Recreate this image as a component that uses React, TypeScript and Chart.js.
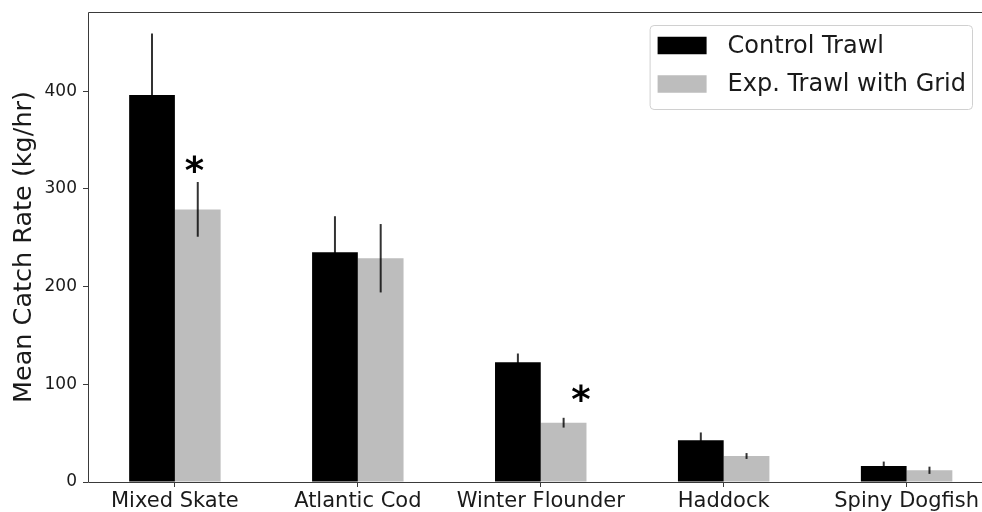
import React, { useEffect, useRef } from 'react';
import { Chart, registerables } from 'chart.js';

Chart.register(...registerables);

const categories = ['Mixed Skate', 'Atlantic Cod', 'Winter Flounder', 'Haddock', 'Spiny Dogfish'];
const seriesLabels = ['Control Trawl', 'Exp. Trawl with Grid'];
const controlValues = [396, 235, 122.5, 42.7, 16.4];
const controlErrors = [63, 37, 9, 8, 4.5];
const gridValues = [279, 229, 60.7, 26.6, 12];
const gridErrors = [28, 35, 5, 3, 3.7];
const yTickValues = [0, 100, 200, 300, 400];
const asteriskX = [0.106, 2.219];
const asteriskY = [325.6, 91];

const FONT = "'DejaVu Sans', sans-serif";
const TEXT = '#1a1a1a';
const SPINE = '#3a3a3a';
const seriesColors = ['#000000', '#bdbdbd'];

const extrasPlugin = {
  id: 'extras',
  afterDatasetsDraw(chart: any) {
    const ctx = chart.ctx;
    const y = chart.scales.y;
    const errs = [controlErrors, gridErrors];
    ctx.save();
    ctx.strokeStyle = 'rgba(0,0,0,0.8)';
    ctx.lineWidth = 2;
    chart.data.datasets.forEach((ds: any, di: number) => {
      const meta = chart.getDatasetMeta(di);
      meta.data.forEach((bar: any, i: number) => {
        const v = ds.data[i].y;
        const e = errs[di][i];
        ctx.beginPath();
        ctx.moveTo(bar.x, y.getPixelForValue(v + e));
        ctx.lineTo(bar.x, y.getPixelForValue(v - e));
        ctx.stroke();
      });
    });
    // spines (left, top, bottom; the right one lies beyond the visible area)
    const a = chart.chartArea;
    const l = Math.round(a.left) + 0.5;
    const t = Math.round(a.top) + 0.5;
    const b = Math.round(a.bottom) + 0.5;
    const r = a.right;
    ctx.strokeStyle = SPINE;
    ctx.lineWidth = 1;
    ctx.beginPath();
    ctx.moveTo(r, t);
    ctx.lineTo(l, t);
    ctx.lineTo(l, b);
    ctx.lineTo(r, b);
    ctx.stroke();
    ctx.restore();
  },
  afterDraw(chart: any) {
    const ctx = chart.ctx;
    const xs = chart.scales.x;
    const ys = chart.scales.y;
    const a = chart.chartArea;
    ctx.save();
    // asterisks
    ctx.font = `bold 37px ${FONT}`;
    ctx.fillStyle = '#000';
    ctx.textAlign = 'left';
    ctx.textBaseline = 'alphabetic';
    asteriskX.forEach((xv, i) => {
      const m = ctx.measureText('*');
      const cx = xs.getPixelForValue(xv);
      const cy = ys.getPixelForValue(asteriskY[i]);
      const gx = cx - (m.actualBoundingBoxRight - m.actualBoundingBoxLeft) / 2 + m.actualBoundingBoxLeft;
      const gy = cy + (m.actualBoundingBoxAscent - m.actualBoundingBoxDescent) / 2;
      ctx.fillText('*', gx, gy);
    });
    // legend
    ctx.font = `24px ${FONT}`;
    const labels = chart.data.datasets.map((d: any) => d.label);
    const tw = Math.max(...labels.map((l: string) => ctx.measureText(l).width));
    const padL = 8, sw = 49, sh = 17.5, gap = 21, padR = 6;
    const w = padL + sw + gap + tw + padR;
    const h = 84;
    const right = a.right - 21.5;
    const top = a.top + 13;
    const left = right - w;
    ctx.beginPath();
    if (ctx.roundRect) ctx.roundRect(left + 0.5, top + 0.5, w, h, 4);
    else ctx.rect(left + 0.5, top + 0.5, w, h);
    ctx.fillStyle = 'rgba(255,255,255,0.85)';
    ctx.fill();
    ctx.strokeStyle = '#d0d0d0';
    ctx.lineWidth = 1;
    ctx.stroke();
    const rows = [top + 20.5, top + 59];
    ctx.textBaseline = 'middle';
    ctx.textAlign = 'left';
    chart.data.datasets.forEach((d: any, i: number) => {
      ctx.fillStyle = d.backgroundColor;
      ctx.fillRect(left + padL, rows[i] - sh / 2, sw, sh);
      ctx.fillStyle = TEXT;
      ctx.fillText(d.label, left + padL + sw + gap, rows[i] + 1);
    });
    ctx.restore();
  },
};

export default function App() {
  const ref = useRef<HTMLCanvasElement | null>(null);
  useEffect(() => {
    if (!ref.current) return;
    const chart = new Chart(ref.current, {
      type: 'bar',
      data: {
        datasets: [
          {
            label: seriesLabels[0],
            data: controlValues.map((v, i) => ({ x: i, y: v })),
            backgroundColor: seriesColors[0],
            borderWidth: 0,
          },
          {
            label: seriesLabels[1],
            data: gridValues.map((v, i) => ({ x: i, y: v })),
            backgroundColor: seriesColors[1],
            borderWidth: 0,
          },
        ],
      },
      options: {
        animation: false,
        responsive: false,
        devicePixelRatio: 1,
        layout: { padding: { left: 0, top: 12, right: 6.5, bottom: 0 } },
        datasets: { bar: { categoryPercentage: 0.5, barPercentage: 1.0 } },
        plugins: { legend: { display: false }, tooltip: { enabled: false } },
        scales: {
          x: {
            type: 'linear',
            min: -0.475,
            max: 4.475,
            offset: false,
            grid: { display: true, offset: false, drawOnChartArea: false, drawTicks: true, tickLength: 5, color: SPINE, tickColor: SPINE },
            border: { display: false },
            afterBuildTicks: (s: any) => { s.ticks = categories.map((_, i) => ({ value: i })); },
            afterFit: (s: any) => { s.height = 30; s.paddingLeft = 0; s.paddingRight = 0; },
            ticks: {
              autoSkip: false,
              maxRotation: 0,
              padding: 2,
              color: TEXT,
              font: { family: FONT, size: 21 },
              callback: (v: any) => categories[v] ?? '',
            },
          },
          y: {
            type: 'linear',
            min: 0,
            max: 481,
            grid: { display: true, drawOnChartArea: false, drawTicks: true, tickLength: 5, color: SPINE, tickColor: SPINE },
            border: { display: false },
            afterBuildTicks: (s: any) => { s.ticks = yTickValues.map((v) => ({ value: v })); },
            afterFit: (s: any) => { s.width = 88; s.paddingTop = 0; s.paddingBottom = 0; },
            ticks: { padding: 6, color: TEXT, font: { family: FONT, size: 17 }, includeBounds: false },
            title: {
              display: true,
              text: 'Mean Catch Rate (kg/hr)',
              color: TEXT,
              font: { family: FONT, size: 25.5 },
              padding: { top: 9.5, bottom: 0 },
            },
          },
        },
      },
      plugins: [extrasPlugin],
    } as any);
    return () => chart.destroy();
  }, []);
  return (
    <div style={{ position: 'fixed', left: 0, top: 0, width: 982, height: 512, overflow: 'hidden', background: '#fff' }}>
      <canvas ref={ref} width={1000} height={512} style={{ display: 'block' }} />
    </div>
  );
}
